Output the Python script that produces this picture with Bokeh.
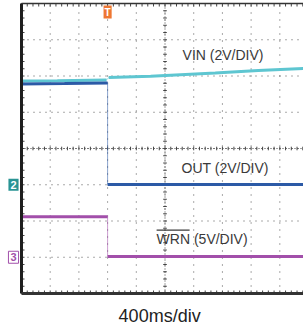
import numpy as np
from bokeh.plotting import figure
from bokeh.models import Range1d, Label
from bokeh.embed import file_html
from bokeh.resources import INLINE

# ---- data (time in ms relative to trigger, 400 ms/div) ----
ms_per_div = 400
t_start, t_end = -1200, 2730
n_ydiv = 8

# channel settings: volts per division and ground position (divisions from bottom)
vin_scale, vin_gnd = 2.0, 3.0
out_scale, out_gnd = 2.0, 3.0
wrn_scale, wrn_gnd = 5.0, 1.0

vin_t = [-1200, -700, -15, 15, 600, 1500, 2100, 2730]
vin_v = [5.72, 5.74, 5.78, 5.92, 5.98, 6.16, 6.30, 6.42]

out_t = [-1200, -600, 0, 0, 1200, 2730]
out_v = [5.56, 5.58, 5.62, 0.02, 0.02, 0.02]

wrn_t = [-1200, -600, 0, 0, 1200, 2730]
wrn_v = [5.60, 5.60, 5.60, 0.10, 0.10, 0.10]

labels = ["VIN (2V/DIV)", "OUT (2V/DIV)", "WRN (5V/DIV)"]
x_label = "400ms/div"

VIN_C, OUT_C, WRN_C = "#5EC6D1", "#2C5AA6", "#A24FAA"
GRID_C = "#444444"

W, H = 303, 328
ML, MT, MB = 21, 3, 35   # pixel space around the scope screen
px_per_ms = (W - ML) / (t_end - t_start)
px_per_div = (H - MT - MB) / n_ydiv


def to_div(v, scale, gnd):
    return np.array([x / scale + gnd for x in v])


p = figure(width=W, height=H, output_backend="svg", toolbar_location=None,
           x_range=Range1d(t_start - ML / px_per_ms, t_end),
           y_range=Range1d(-MB / px_per_div, n_ydiv + MT / px_per_div),
           min_border_left=0, min_border_right=0, min_border_top=0,
           min_border_bottom=0)
p.xaxis.visible = False
p.yaxis.visible = False
p.xgrid.visible = False
p.ygrid.visible = False
p.outline_line_color = None
p.background_fill_color = "white"

# dotted graticule
xt = np.arange(t_start + ms_per_div, t_end, ms_per_div)
yt = np.arange(1, n_ydiv)
p.segment(xt, 0, xt, n_ydiv, line_color=GRID_C, line_dash="1 6", line_alpha=0.9)
p.segment(t_start, yt, t_end, yt, line_color=GRID_C, line_dash="1 5", line_alpha=0.9)

# minor tick marks on borders and centre lines
xc = t_start + 5 * ms_per_div
mx = np.arange(t_start, t_end, ms_per_div / 5)
my = np.arange(0, n_ydiv + 0.01, 0.2)
tx = 3 / px_per_div
ty = 3 / px_per_ms
p.segment(mx, 0, mx, tx, line_color="#444", line_width=1)
p.segment(mx, n_ydiv, mx, n_ydiv - tx, line_color="#444", line_width=1)
p.segment(mx, 4 - 0.6 * tx, mx, 4 + 0.6 * tx, line_color="#444", line_width=1)
p.segment(t_start, my, t_start + ty, my, line_color="#444", line_width=1)
p.segment(xc - 0.6 * ty, my, xc + 0.6 * ty, my, line_color="#444", line_width=1)
p.segment(t_start, 4, t_end, 4, line_color="#444", line_dash="1 2", line_width=1)
p.segment(xc, 0, xc, n_ydiv, line_color="#444", line_dash="1 2", line_width=1)


def trace(t, v, scale, gnd, color):
    t = np.array(t, dtype=float)
    y = to_div(v, scale, gnd)
    # thin fast edge around the trigger
    p.line(t, y, line_color=color, line_width=1, line_alpha=0.55)
    zero = np.where(t == 0)[0]
    if len(zero) >= 2:
        pre = np.arange(0, zero[0] + 1)
        post = np.arange(zero[-1], len(t))
    else:
        pre = np.where(t < 0)[0]
        post = np.where(t > 0)[0]
    p.line(t[pre], y[pre], line_color=color, line_width=3)
    p.line(t[post], y[post], line_color=color, line_width=3)


trace(vin_t, vin_v, vin_scale, vin_gnd, VIN_C)
trace(out_t, out_v, out_scale, out_gnd, OUT_C)
trace(wrn_t, wrn_v, wrn_scale, wrn_gnd, WRN_C)

# frame borders
p.segment(t_start, 0, t_start, n_ydiv, line_color="#1e1e1e", line_width=3)
p.segment(t_start, 0, t_end, 0, line_color="#333333", line_width=3)
p.segment(t_start, n_ydiv, t_end, n_ydiv, line_color="#333333", line_width=1.5)

font = "Liberation Sans"
TXT = "#3a3a3a"
p.add_layout(Label(x=1045, y=6.59, text=labels[0], text_align="left", text_baseline="middle",
                   text_font=font, text_font_size="14px", text_color=TXT))
p.add_layout(Label(x=1031, y=3.45, text=labels[1], text_align="left", text_baseline="middle",
                   text_font=font, text_font_size="14px", text_color=TXT))
p.add_layout(Label(x=683, y=1.49, text=labels[2], text_align="left", text_baseline="middle",
                   text_font=font, text_font_size="14px", text_color=TXT))
p.segment([683], [1.75], [683 + 33 / px_per_ms], [1.75], line_color=TXT, line_width=1.2)

p.add_layout(Label(x=725, y=-0.61, text=x_label, text_align="center", text_baseline="middle",
                   text_font=font, text_font_size="18px", text_color="#222222"))

# channel markers and trigger marker
p.add_layout(Label(x=t_start, y=out_gnd, x_offset=-8, text="2", text_align="center",
                   text_baseline="middle", text_font=font, text_font_size="11px",
                   text_font_style="bold", text_color="white",
                   background_fill_color="#2A9494", padding=2))
p.add_layout(Label(x=t_start, y=wrn_gnd, x_offset=-8, text="3", text_align="center",
                   text_baseline="middle", text_font=font, text_font_size="11px",
                   text_font_style="bold", text_color=WRN_C, background_fill_color="white",
                   border_line_color=WRN_C, padding=2))
p.add_layout(Label(x=0, y=n_ydiv, y_offset=-2, text="T", text_align="center", text_baseline="top",
                   text_font=font, text_font_size="10px", text_font_style="bold",
                   text_color="white", background_fill_color="#EE7733", padding=1))

open("out.html", "w").write(file_html(p, INLINE))
